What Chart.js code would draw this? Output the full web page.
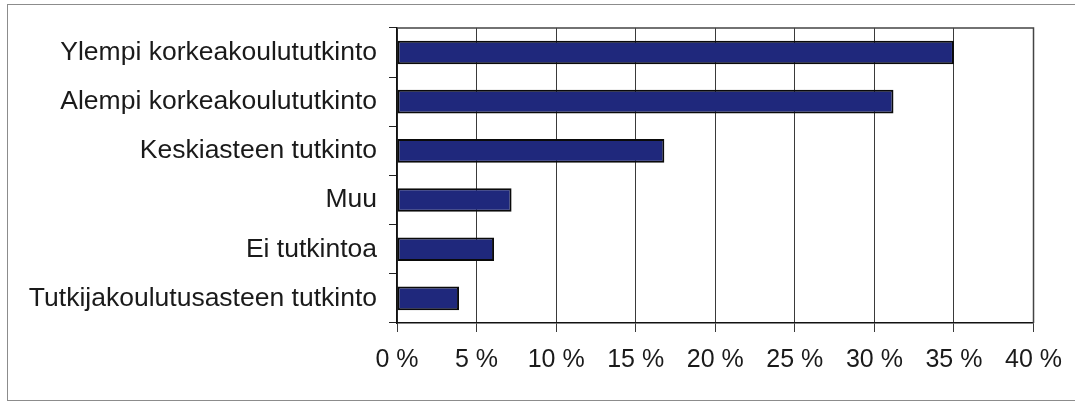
<!DOCTYPE html>
<html lang="fi">
<head>
    <meta charset="UTF-8">
    <title>Tutkinnot</title>
    <script src="https://cdn.jsdelivr.net/npm/chart.js@4.4.0/dist/chart.umd.min.js"></script>
    <style>
        body {
            margin: 0;
            background: #ffffff;
            overflow: hidden;
        }

        .frame {
            position: absolute;
            left: 7px;
            top: 4px;
            width: 1100px;
            height: 395px;
            border: 1.5px solid #8c8c8c;
        }

        #chart {
            position: absolute;
            left: 0;
            top: 0;
        }
    </style>
</head>
<body>
    <div class="frame"></div>
    <canvas id="chart" width="1075" height="402"></canvas>

    <script>
        const categories = [
            'Ylempi korkeakoulututkinto',
            'Alempi korkeakoulututkinto',
            'Keskiasteen tutkinto',
            'Muu',
            'Ei tutkintoa',
            'Tutkijakoulutusasteen tutkinto'
        ];
        const shares = [35.0, 31.2, 16.8, 7.2, 6.1, 3.9];
        const xTicks = [0, 5, 10, 15, 20, 25, 30, 35, 40];

        // frame around the plot area (top and right edges)
        const plotFrame = {
            id: 'plotFrame',
            afterDraw(chart) {
                const a = chart.chartArea;
                const ctx = chart.ctx;
                ctx.save();
                ctx.strokeStyle = '#444';
                ctx.lineWidth = 1.5;
                ctx.beginPath();
                ctx.moveTo(a.left, a.top);
                ctx.lineTo(a.right, a.top);
                ctx.lineTo(a.right, a.bottom);
                ctx.stroke();
                ctx.restore();
            }
        };

        new Chart(document.getElementById('chart'), {
            type: 'bar',
            data: {
                labels: categories,
                datasets: [{
                    data: shares,
                    backgroundColor: '#1f287c',
                    borderColor: '#0a0a0a',
                    borderWidth: 2,
                    borderSkipped: false,
                    barPercentage: 0.48,
                    categoryPercentage: 1
                }]
            },
            options: {
                indexAxis: 'y',
                responsive: false,
                animation: false,
                layout: {
                    padding: { left: 0, top: 25, right: 41, bottom: 0 }
                },
                plugins: {
                    legend: { display: false },
                    tooltip: { enabled: false }
                },
                scales: {
                    x: {
                        min: 0,
                        max: 40,
                        afterFit: (scale) => { scale.height = 79; },
                        afterBuildTicks: (scale) => {
                            scale.ticks = xTicks.map(v => ({ value: v }));
                        },
                        grid: {
                            color: '#3a3a3a',
                            lineWidth: 1,
                            tickLength: 9
                        },
                        border: { color: '#111', width: 1.5 },
                        ticks: {
                            color: '#1a1a1a',
                            padding: 13,
                            maxRotation: 0,
                            font: { family: '"Liberation Sans", Arial', size: 25 },
                            callback: (v) => v + ' %'
                        }
                    },
                    y: {
                        afterFit: (scale) => { scale.width = 397; },
                        grid: {
                            drawOnChartArea: false,
                            color: '#222',
                            tickLength: 8
                        },
                        border: { color: '#111', width: 1.5 },
                        ticks: {
                            color: '#1a1a1a',
                            padding: 12,
                            font: { family: '"Liberation Sans", Arial', size: 26.5 }
                        }
                    }
                }
            },
            plugins: [plotFrame]
        });
    </script>
</body>
</html>
